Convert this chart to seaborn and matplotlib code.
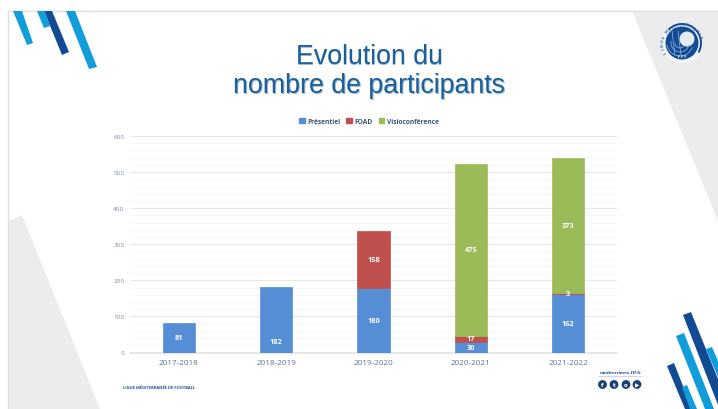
import numpy as np
import pandas as pd
import matplotlib
matplotlib.use("Agg")
import matplotlib.pyplot as plt
import seaborn as sns
from matplotlib.patches import Polygon, Circle, Wedge, Patch
from matplotlib.ticker import MultipleLocator

saisons = ["2017-2018", "2018-2019", "2019-2020", "2020-2021", "2021-2022"]
presentiel = [81, 182, 180, 30, 162]
foad = [0, 0, 158, 17, 3]
visio = [0, 0, 0, 475, 373]

BLUE = "#558ed5"
RED = "#c0504d"
GREEN = "#9bbb59"
LIGHT = "#119ddc"
DARK = "#134a94"

sns.set_theme(style="white")
plt.rcParams["font.family"] = ["Open Sans", "DejaVu Sans"]

W, H = 718, 410
fig = plt.figure(figsize=(W / 100, H / 100), dpi=100, facecolor="white")

# slide decoration, in pixels
bg = fig.add_axes([0, 0, 1, 1], zorder=0)
bg.set_xlim(0, W)
bg.set_ylim(H, 0)
bg.axis("off")

bg.add_patch(Polygon([(632, 12), (718, 12), (718, 222)], color="#ececec", lw=0))
bg.add_patch(Polygon([(8, 222), (22, 216), (100, 410), (8, 410)], color="#ececec", lw=0))
bg.plot([7.5, 7.5, 718], [410, 11.5, 11.5], color="#e0e0e0", lw=1)

light_stripes = [
    [(13, 12), (22, 12), (33, 44), (27, 46)],
    [(37, 12), (45, 12), (50, 27), (44, 29)],
    [(66, 12), (75, 12), (97, 68), (89, 70)],
    [(706, 350), (712, 348), (718, 362), (718, 378)],
    [(676, 337), (684, 334), (714, 410), (705, 410)],
    [(682, 388), (687, 386), (697, 410), (690, 410)],
]
dark_stripes = [
    [(44, 12), (52, 12), (69, 53), (62, 56)],
    [(683, 316), (691, 313), (718, 380), (718, 406)],
    [(667, 367), (674, 364), (692, 410), (685, 410)],
]
for s in dark_stripes:
    bg.add_patch(Polygon(s, color=DARK, lw=0, zorder=2))
for s in light_stripes:
    bg.add_patch(Polygon(s, color=LIGHT, lw=0, zorder=3 if s[0][0] != 682 else 4))

# logo
bg.add_patch(Circle((682, 44), 20.5, color="#f4f6fa", lw=0, zorder=4))
bg.add_patch(Wedge((682, 44), 20, -135, 30, width=2, color=DARK, lw=0, zorder=5))
bg.add_patch(Circle((682, 44), 16.5, color=DARK, lw=0, zorder=5))
bg.add_patch(Circle((687, 40), 7.5, color="#e6ecf4", lw=0, zorder=6))
for r, a1, a2 in [(13, 190, 340), (9, 170, 350), (5, 180, 320)]:
    t = np.radians(np.linspace(a1, a2, 30))
    bg.plot(680 + r * np.cos(t), 44 - r * np.sin(t), color="#9dbbdd", lw=0.5, zorder=6)
for x in [672, 678]:
    bg.plot([x, x + 3], [32, 56], color="#9dbbdd", lw=0.5, zorder=6)
bg.text(682, 56.5, "F F F", color="white", fontsize=2.8, ha="center", va="center",
        fontweight="bold", zorder=7)
logo_txt = "LIGUE MEDITERRANEE"
for a, c in zip(np.linspace(205, 20, len(logo_txt)), logo_txt):
    ar = np.radians(a)
    bg.text(682 + 19 * np.cos(ar), 44 - 19 * np.sin(ar), c, fontsize=3, fontweight="bold",
            color="#2f62a5", rotation=a - 90, ha="center", va="center", zorder=7)

# footer
bg.text(123, 388, "LIGUE MÉDITERRANÉE DE FOOTBALL", fontsize=2.9, fontweight="bold",
        color="#1d4f8f", va="center", ha="left")
bg.text(642, 373, "mediterranee.fff.fr", fontsize=3.2, fontweight="bold",
        color="#1d4f8f", va="center", ha="right")
bg.plot([598, 642], [376.5, 376.5], color="#b8c6dc", lw=0.5)
for x, g in zip([602.5, 614, 626, 637], ["f", "t", "o", "▶"]):
    bg.add_patch(Circle((x, 385.5), 4.4, color="#1c3f74", lw=0))
    bg.text(x, 385.5, g, color="white", fontsize=4, ha="center", va="center",
            family="DejaVu Sans", fontweight="bold")

# title
for i, ligne in enumerate(["Evolution du", "nombre de participants"]):
    y = [57, 86][i]
    bg.text(369.7, y + 0.7, ligne, fontsize=19.3, family="Liberation Sans", color="#9fb6cc",
            ha="center", va="center")
    bg.text(369, y, ligne, fontsize=19.3, family="Liberation Sans", color="#1a619c",
            ha="center", va="center")

# chart
ax = fig.add_axes([130 / W, (H - 353.5) / H, 487 / W, (353.5 - 137) / H], zorder=2)
ax.patch.set_alpha(0)

df = pd.DataFrame({"saison": saisons, "Présentiel": presentiel, "FOAD": foad, "Visioconférence": visio})
bas = np.zeros(len(df))
couleurs = {"Présentiel": BLUE, "FOAD": RED, "Visioconférence": GREEN}
for nom, coul in couleurs.items():
    n = len(ax.containers)
    sns.barplot(data=df, x="saison", y=nom, color=coul, saturation=1, width=0.33,
                bottom=bas, ax=ax, linewidth=0.5, edgecolor=coul, zorder=3)
    cont = ax.containers[n]
    # empty segments would leave a coloured line on top of the stack
    for p in cont:
        if p.get_height() == 0:
            p.set_visible(False)
    labels = [str(v) if v > 0 else "" for v in df[nom]]
    if nom == "Présentiel":
        # the 2018-2019 label sits low in its bar
        labels[1] = ""
    ax.bar_label(cont, labels=labels, label_type="center", color="white", fontsize=5.3,
                 fontweight="bold", zorder=4)
    bas = bas + df[nom].to_numpy()

ax.annotate(str(presentiel[1]), xy=(1, 0), xytext=(0, 8), textcoords="offset points",
            color="white", fontsize=5.3, fontweight="bold", ha="center", va="center", zorder=4)

ax.set_xlim(-0.5, 4.5)
ax.set_ylim(0, 600)
ax.set_xlabel("")
ax.set_ylabel("")
ax.yaxis.set_major_locator(MultipleLocator(100))
ax.yaxis.set_minor_locator(MultipleLocator(20))
ax.grid(axis="y", which="major", color="#e8e8e8", lw=0.8, zorder=0)
ax.grid(axis="y", which="minor", color="#f7f7f7", lw=0.7, zorder=0)
ax.set_axisbelow(True)
sns.despine(ax=ax, left=True, top=True, right=True)
ax.spines["bottom"].set_color("#e4e4e4")
ax.tick_params(axis="y", which="both", length=0, labelsize=4.6, labelcolor="#7f8fb0", pad=4)
ax.tick_params(axis="x", length=0, labelsize=5.9, labelcolor="#5f7398", pad=4.5)

handles = [Patch(color=c, label=k) for k, c in couleurs.items()]
leg = fig.legend(handles=handles, loc="center", bbox_to_anchor=(369 / W, (H - 122) / H), ncol=3,
                 frameon=False, fontsize=4.8, handlelength=0.8, handleheight=0.7,
                 handletextpad=0.4, columnspacing=0.9)
for t in leg.get_texts():
    t.set_color("#3d5478")
    t.set_fontweight("bold")

fig.savefig("out.png", dpi=100)
